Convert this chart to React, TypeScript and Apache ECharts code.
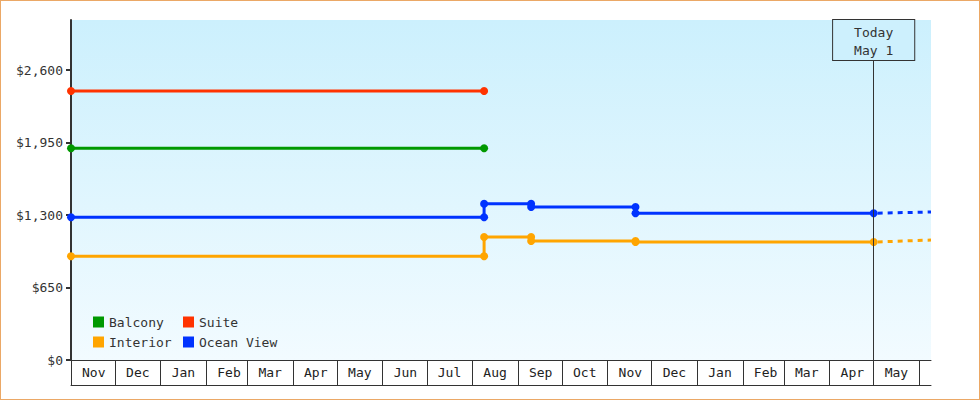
import React, { useEffect, useRef } from 'react'
import * as echarts from 'echarts'

const FONT = '"DejaVu Sans Mono", "Liberation Mono", monospace'
const INK = '#333333'

const monthNames = ['Jan', 'Feb', 'Mar', 'Apr', 'May', 'Jun', 'Jul', 'Aug', 'Sep', 'Oct', 'Nov', 'Dec']

// month boundaries drawn as the cell separators under the plot
const monthTicks = [
  '2013-11-01', '2013-12-01', '2014-01-01', '2014-02-01', '2014-03-01', '2014-04-01',
  '2014-05-01', '2014-06-01', '2014-07-01', '2014-08-01', '2014-09-01', '2014-10-01',
  '2014-11-01', '2014-12-01', '2015-01-01', '2015-02-01', '2015-03-01', '2015-04-01',
  '2015-05-01', '2015-06-01',
]
const axisStart = '2013-11-01'
const axisEnd = '2015-06-09'
const today = '2015-05-01'

const yTicks = [0, 650, 1300, 1950, 2600]
const yMax = 3050

const balcony: [string, number][] = [
  ['2013-11-01', 1899],
  ['2014-08-09', 1899],
]
const suite: [string, number][] = [
  ['2013-11-01', 2413],
  ['2014-08-09', 2413],
]
const interior: [string, number][] = [
  ['2013-11-01', 930],
  ['2014-08-09', 930],
  ['2014-08-09', 1103],
  ['2014-09-10', 1103],
  ['2014-09-10', 1067],
  ['2014-11-20', 1067],
  ['2014-11-20', 1058],
  ['2015-05-01', 1058],
]
const oceanView: [string, number][] = [
  ['2013-11-01', 1281],
  ['2014-08-09', 1281],
  ['2014-08-09', 1402],
  ['2014-09-10', 1402],
  ['2014-09-10', 1372],
  ['2014-11-20', 1372],
  ['2014-11-20', 1316],
  ['2015-05-01', 1316],
]
// projections past today (dashed)
const interiorForecast: [string, number][] = [
  ['2015-05-01', 1058],
  ['2015-06-09', 1076],
]
const oceanViewForecast: [string, number][] = [
  ['2015-05-01', 1316],
  ['2015-06-09', 1328],
]

const colors = {
  Balcony: '#009900',
  Suite: '#ff3300',
  Interior: '#ffa500',
  'Ocean View': '#0033ff',
}

const ts = (d: string) => new Date(d + 'T00:00:00').getTime()
const toPoints = (rows: [string, number][]) => rows.map(([d, v]) => [ts(d), v])

function solidSeries(name: keyof typeof colors, rows: [string, number][]) {
  return {
    name,
    type: 'line',
    data: toPoints(rows),
    color: colors[name],
    symbol: 'circle',
    symbolSize: 8,
    lineStyle: { width: 3, color: colors[name] },
    itemStyle: { color: colors[name] },
    z: 3,
  }
}

function dashedSeries(name: keyof typeof colors, rows: [string, number][]) {
  return {
    name,
    type: 'line',
    data: toPoints(rows),
    color: colors[name],
    showSymbol: false,
    symbol: 'none',
    lineStyle: { width: 3, color: colors[name], type: [5, 5], dashOffset: -4 },
    z: 3,
  }
}

export default function App() {
  const ref = useRef<HTMLDivElement>(null)

  useEffect(() => {
    document.body.style.margin = '0'
    if (!ref.current) return
    const chart = echarts.init(ref.current, null, { renderer: 'svg' })

    const legendBase = {
      orient: 'vertical',
      icon: 'rect',
      itemWidth: 11,
      itemHeight: 11,
      itemGap: 6,
      selectedMode: false,
      top: 309,
      textStyle: { fontFamily: FONT, fontSize: 13, color: INK, lineHeight: 14 },
    }

    const monthLabel = (v: number) => monthNames[new Date(v).getMonth()]

    chart.setOption({
      animation: false,
      grid: {
        left: 70,
        right: 48,
        top: 19,
        bottom: 39,
        show: true,
        borderWidth: 0,
        backgroundColor: new echarts.graphic.LinearGradient(0, 0, 0, 1, [
          { offset: 0, color: '#ccf0fd' },
          { offset: 1, color: '#f2fbff' },
        ]),
      },
      legend: [
        { ...legendBase, left: 87, data: ['Balcony', 'Interior'] },
        { ...legendBase, left: 177, data: ['Suite', 'Ocean View'] },
      ],
      xAxis: [
        {
          type: 'value',
          min: ts(axisStart),
          max: ts(axisEnd),
          axisLine: { show: true, lineStyle: { color: INK, width: 1 } },
          axisTick: {
            show: true,
            length: 25,
            lineStyle: { color: INK, width: 1 },
            customValues: monthTicks.map(ts),
          },
          axisLabel: {
            customValues: monthTicks.slice(0, -1).map(ts),
            formatter: monthLabel,
            align: 'left',
            padding: [0, 0, 0, 11],
            margin: 6,
            fontFamily: FONT,
            fontSize: 13,
            color: '#222222',
          },
          splitLine: { show: false },
        },
        {
          type: 'value',
          min: ts(axisStart),
          max: ts(axisEnd),
          position: 'bottom',
          offset: 25,
          axisLine: { show: true, lineStyle: { color: INK, width: 1 } },
          axisTick: { show: false },
          axisLabel: { show: false },
          splitLine: { show: false },
        },
      ],
      yAxis: {
        type: 'value',
        min: 0,
        max: yMax,
        interval: 650,
        axisLine: { show: true, lineStyle: { color: INK, width: 2 } },
        axisTick: {
          show: true,
          length: 5,
          lineStyle: { color: INK, width: 2 },
          customValues: yTicks,
        },
        axisLabel: {
          customValues: yTicks,
          formatter: (v: number) => '$' + v.toLocaleString('en-US'),
          margin: 8,
          fontFamily: FONT,
          fontSize: 13,
          color: INK,
        },
        splitLine: { show: false },
      },
      series: [
        solidSeries('Balcony', balcony),
        solidSeries('Suite', suite),
        solidSeries('Interior', interior),
        {
          ...solidSeries('Ocean View', oceanView),
          markLine: {
            silent: true,
            symbol: ['none', 'none'],
            lineStyle: { color: INK, width: 1, type: 'solid' },
            label: {
              show: true,
              position: 'end',
              distance: 0,
              formatter: 'Today\nMay 1',
              fontFamily: FONT,
              fontSize: 13,
              lineHeight: 18,
              color: INK,
              padding: [3, 21, 1, 21],
              borderColor: INK,
              borderWidth: 1,
              backgroundColor: '#cdf0fd',
            },
            data: [
              [
                { coord: [ts(today), 0] },
                { coord: [ts(today), yMax * (300 / 340)] },
              ],
            ],
          },
        },
        dashedSeries('Interior', interiorForecast),
        dashedSeries('Ocean View', oceanViewForecast),
      ],
    })

    return () => chart.dispose()
  }, [])

  return (
    <div
      style={{
        width: 980,
        height: 400,
        boxSizing: 'border-box',
        border: '1px solid #eba866',
        background: '#ffffff',
      }}
    >
      <div ref={ref} style={{ width: 978, height: 398 }} />
    </div>
  )
}
